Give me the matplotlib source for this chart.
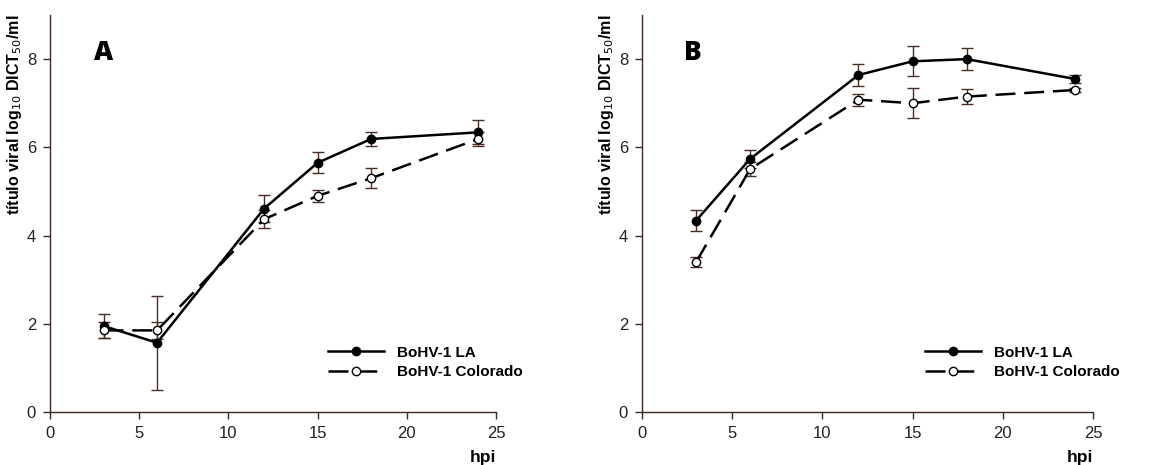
import matplotlib
matplotlib.use("Agg")
import matplotlib.pyplot as plt
from matplotlib import font_manager

# Sampling times (hours post infection)
hpi = [3, 6, 12, 15, 18, 24]

# Panel A: viral titres and standard deviations
a_la = [1.95, 1.57, 4.61, 5.65, 6.19, 6.34]
a_la_err = [0.27, 1.07, 0.30, 0.24, 0.15, 0.27]
a_col = [1.85, 1.85, 4.37, 4.90, 5.30, 6.19]
a_col_err = [0.18, 0.20, 0.20, 0.14, 0.23, 0.15]

# Panel B: viral titres and standard deviations
b_la = [4.34, 5.74, 7.64, 7.95, 8.00, 7.55]
b_la_err = [0.23, 0.20, 0.25, 0.34, 0.25, 0.09]
b_col = [3.40, 5.51, 7.08, 7.00, 7.15, 7.30]
b_col_err = [0.12, 0.15, 0.14, 0.34, 0.17, 0.04]

series_labels = ["BoHV-1 LA", "BoHV-1 Colorado"]
panel_letters = ["A", "B"]
x_ticks = [0, 5, 10, 15, 20, 25]
y_ticks = [0, 2, 4, 6, 8]

available = {f.name for f in font_manager.fontManager.ttflist}
narrow = "Liberation Sans Narrow" if "Liberation Sans Narrow" in available else "Liberation Sans"
plt.rcParams["font.family"] = [narrow, "DejaVu Sans"]

spine_col = "#3b2a22"
err_col = "#4a2e24"

fig = plt.figure(figsize=(11.51, 4.65), dpi=100)
W, H = 1151, 465
axA = fig.add_axes([50 / W, 53 / H, 446 / W, 397 / H])
axB = fig.add_axes([642 / W, 53 / H, 451 / W, 397 / H])

panels = [
    (axA, a_la, a_la_err, a_col, a_col_err, panel_letters[0], 0.121, 0.623),
    (axB, b_la, b_la_err, b_col, b_col_err, panel_letters[1], 0.113, 0.627),
]

for ax, la, la_err, col, col_err, letter, letter_x, leg_x in panels:
    ax.errorbar(hpi, la, yerr=la_err, fmt="none", ecolor=err_col,
                elinewidth=1.0, capsize=4, capthick=1.0, zorder=2)
    ax.errorbar(hpi, col, yerr=col_err, fmt="none", ecolor=err_col,
                elinewidth=1.0, capsize=4, capthick=1.0, zorder=2)
    ax.plot(hpi, la, color="black", lw=1.8, marker="o", ms=6,
            mfc="black", mec="black", label=series_labels[0], zorder=3)
    ax.plot(hpi, col, color="black", lw=1.8, ls=(0, (8, 3.5)), marker="o",
            ms=6, mfc="white", mec="black", mew=1.0,
            label=series_labels[1], zorder=3)

    ax.set_xlim(0, 25)
    ax.set_ylim(0, 9)
    ax.set_xticks(x_ticks)
    ax.set_yticks(y_ticks)
    for side in ("top", "right"):
        ax.spines[side].set_visible(False)
    for side in ("left", "bottom"):
        ax.spines[side].set_color(spine_col)
        ax.spines[side].set_linewidth(1.0)
    ax.tick_params(direction="out", length=5, width=1.0, color=spine_col,
                   labelsize=12, labelcolor="#222222", pad=5)

    ax.set_ylabel("título viral log$_{10}$ DICT$_{50}$/ml", fontsize=11.5,
                  fontweight="bold", loc="top", labelpad=2,
                  family=["Liberation Sans", "DejaVu Sans"])
    ax.text(1.0, -0.095, "hpi", transform=ax.transAxes, ha="right", va="top",
            fontsize=12.5, fontweight="bold")
    ax.text(letter_x, 0.904, letter, transform=ax.transAxes, ha="center",
            va="center", fontsize=19, fontweight="heavy",
            family=["Open Sans", "DejaVu Sans"])

    ax.legend(loc="upper left", bbox_to_anchor=(leg_x, 0.167),
              frameon=False, handlelength=3.7, borderpad=0,
              borderaxespad=0, labelspacing=0.35, handletextpad=0.8,
              prop={"weight": "bold", "size": 11})

fig.savefig("out.png", dpi=100)
